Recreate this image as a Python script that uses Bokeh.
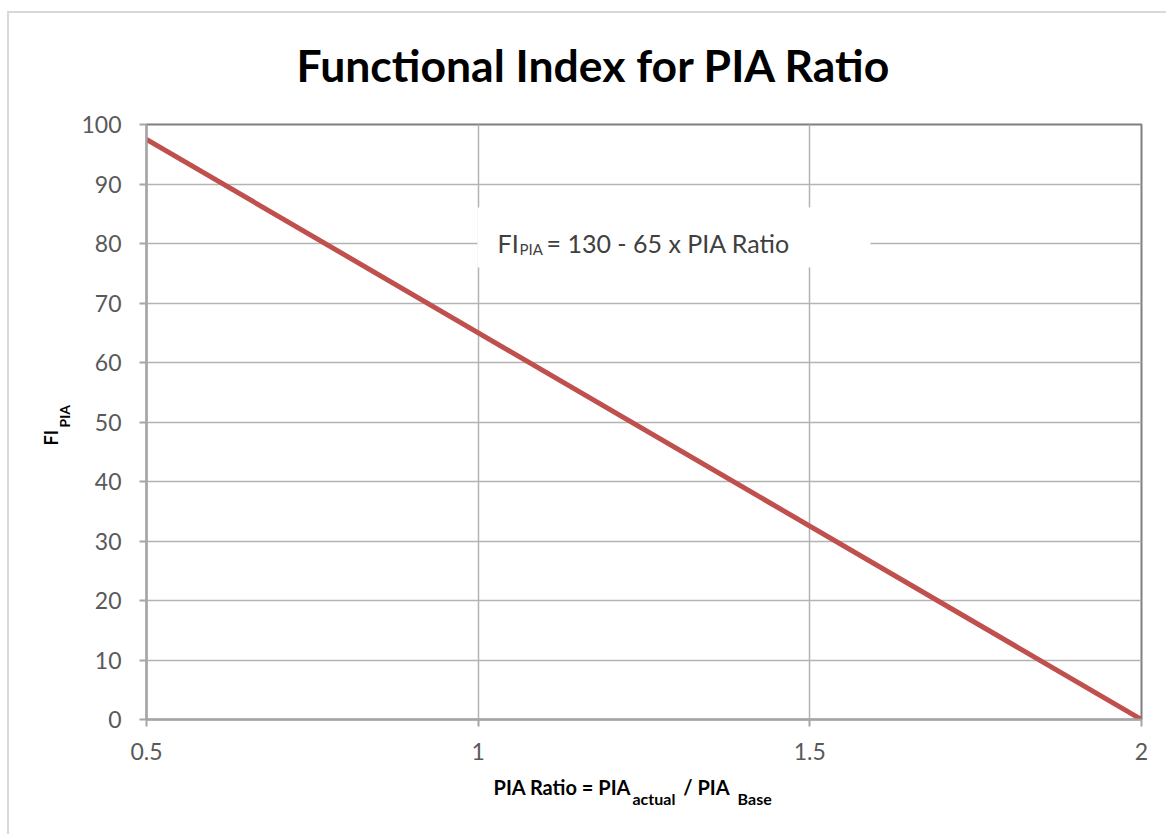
from bokeh.plotting import figure
from bokeh.models import Label, BoxAnnotation, FixedTicker, Title
from bokeh.embed import file_html
from bokeh.resources import INLINE

# ---- data ----
pia_ratio = [0.5, 2.0]
fi_pia = [97.5, 0.0]
x_ticks = [0.5, 1, 1.5, 2]
x_tick_labels = ["0.5", "1", "1.5", "2"]
y_ticks = [0, 10, 20, 30, 40, 50, 60, 70, 80, 90, 100]
title_text = "Functional Index for PIA Ratio"
NB = "\u00a0"

W, H = 1166, 834
FL, FR, FT, FB = 146, 1141, 124, 719
X0, X1, Y0, Y1 = 0.5, 2.0, 0, 100

def xd(px):
    return X0 + (px - FL) * (X1 - X0) / (FR - FL)

def yd(py):
    return Y0 + (FB - py) * (Y1 - Y0) / (FB - FT)

FONT = "Lato"

p = figure(width=W, height=H, x_range=(X0, X1), y_range=(Y0, Y1),
           output_backend="svg", toolbar_location=None,
           min_border_left=FL, min_border_right=W - FR,
           min_border_top=FT, min_border_bottom=H - FB)
p.background_fill_color = "white"
p.border_fill_color = "white"
p.outline_line_color = "#7f7f7f"
p.outline_line_width = 2

# faint outer chart border (left and top edges)
p.stylesheets = [":host::after {content: ''; position: absolute; left: 7px; top: 11px; "
                 "right: 0; bottom: 0; border-left: 2px solid #d9d9d9; "
                 "border-top: 2px solid #d9d9d9; pointer-events: none; z-index: 10;}"]

p.title.text = title_text
p.title.align = "left"
p.title.offset = 150
p.title.text_font = FONT
p.title.text_font_size = "44.5px"
p.title.text_color = "#000000"
p.title.standoff = 68

p.xaxis.ticker = FixedTicker(ticks=x_ticks)
p.xaxis.major_label_overrides = {t: l for t, l in zip(x_ticks, x_tick_labels)}
p.yaxis.ticker = FixedTicker(ticks=y_ticks)
for ax in (p.xaxis, p.yaxis):
    ax.axis_line_color = "#a6a6a6"
    ax.axis_line_width = 2
    ax.major_tick_line_color = "#a6a6a6"
    ax.major_tick_line_width = 2
    ax.major_tick_out = 7
    ax.major_tick_in = 0
    ax.minor_tick_line_color = None
    ax.major_label_text_font = FONT
    ax.major_label_text_font_size = "23px"
    ax.major_label_text_color = "#595959"
p.xaxis.major_label_standoff = 16
p.yaxis.major_label_standoff = 18

p.xgrid.ticker = FixedTicker(ticks=x_ticks)
p.ygrid.ticker = FixedTicker(ticks=y_ticks)
p.grid.grid_line_color = "#b3b3b3"
p.grid.grid_line_width = 1.5

p.line(pia_ratio, fi_pia, line_color="#C0504D", line_width=5)

p.add_layout(BoxAnnotation(left=xd(477), right=xd(870), top=yd(207), bottom=yd(267),
                           fill_color="white", fill_alpha=1.0, line_color=None))

def lab(text, px, py, size, color="#404040"):
    p.add_layout(Label(x=xd(px), y=yd(py), text=text, text_font=FONT,
                       text_font_size=f"{size}px", text_align="left",
                       text_baseline="alphabetic", text_color=color))

# equation inside the plot
lab("FI", 497, 242, 25)
lab("PIA", 519, 248, 15)
lab("= 130 - 65 x PIA Ratio", 546, 242, 25)

def side_title(text, side, size, offset, standoff):
    p.add_layout(Title(text=text, align="left", vertical_align="middle",
                       offset=offset, standoff=standoff, text_font=FONT,
                       text_font_size=f"{size}px", text_font_style="bold",
                       text_color="#000000"), side)

# x axis label: spacer, main line, subscript line
side_title(" ", "below", 10, 0, 5)
side_title("PIA Ratio = PIA" + NB * 11 + "/ PIA", "below", 20, 347, -16)
side_title("actual" + NB * 16 + "Base", "below", 16, 486, -8)

# y axis label: spacer, subscript line, main line
side_title(" ", "left", 10, 0, -5)
side_title("PIA", "left", 14, 292, -9)
side_title("FI", "left", 18, 274, -6)

open("out.html", "w").write(file_html(p, INLINE))
